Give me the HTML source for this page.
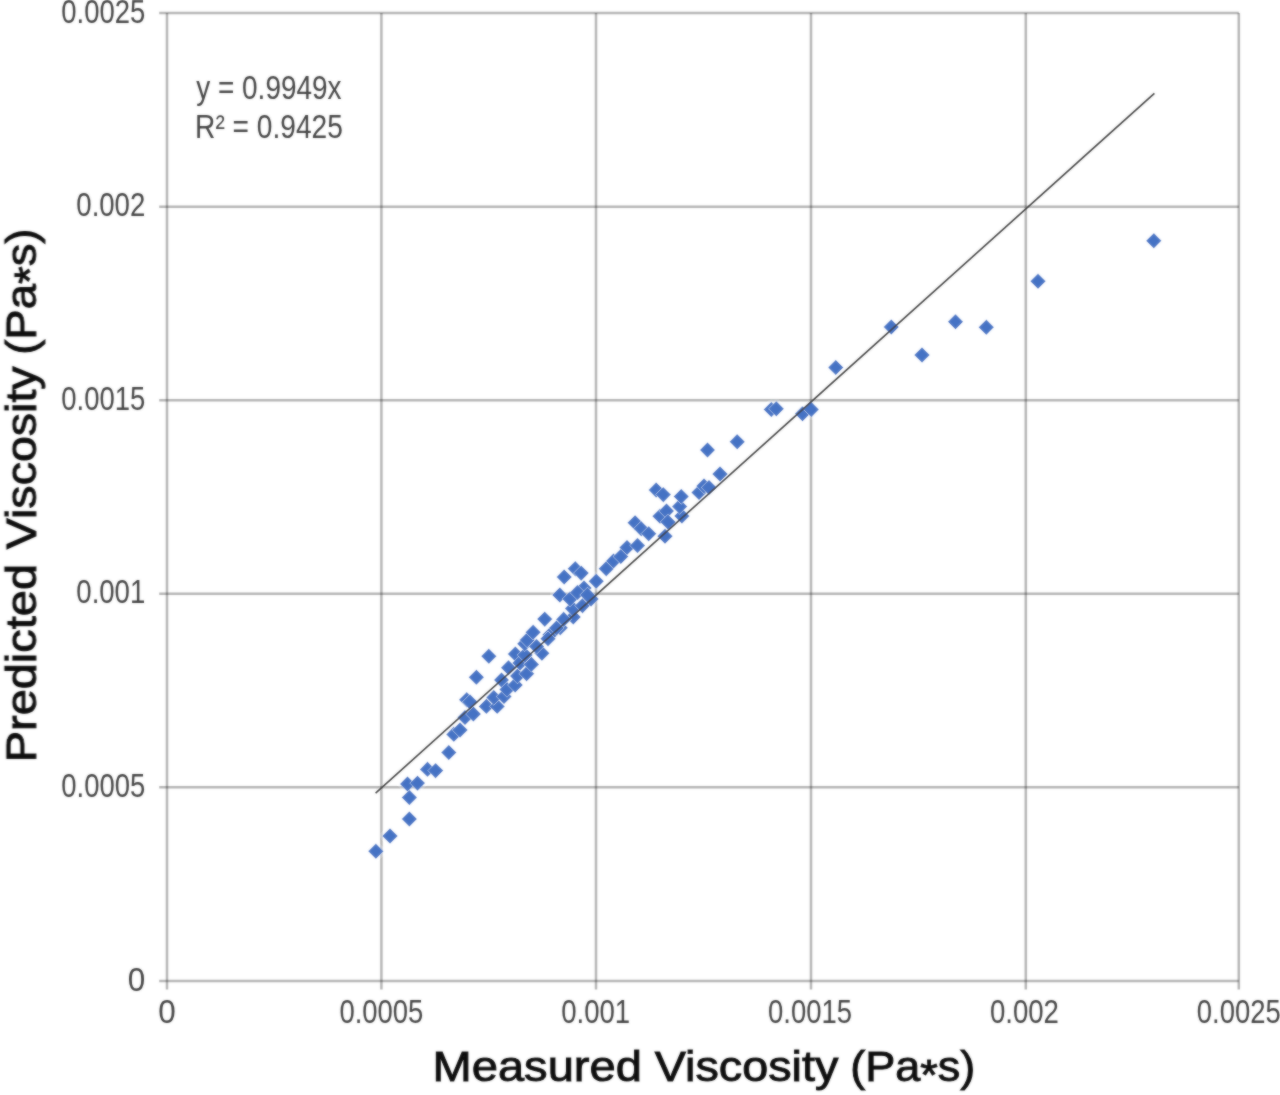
<!DOCTYPE html>
<html lang="en"><head><meta charset="utf-8"><title>Predicted vs Measured Viscosity</title>
<style>
html,body{margin:0;padding:0;background:#fff;}
body{width:1280px;height:1095px;overflow:hidden;}
svg{display:block;}
text{font-family:"Liberation Sans",Arial,Helvetica,sans-serif;}
.tick{font-size:32.5px;fill:#454545;}
.eq{font-size:32.3px;fill:#454545;}
.title{font-size:42px;fill:#111;stroke:#111;stroke-width:0.9px;}
</style></head><body>
<svg width="1280" height="1095" viewBox="0 0 1280 1095">
<defs><filter id="soft" x="0" y="0" width="1280" height="1095" filterUnits="userSpaceOnUse"><feGaussianBlur in="SourceGraphic" stdDeviation="0.9" result="b"/><feComposite in="SourceGraphic" in2="b" operator="arithmetic" k1="0" k2="0.45" k3="0.55" k4="0"/></filter></defs>
<rect width="1280" height="1095" fill="#ffffff"/>
<g filter="url(#soft)">

<g stroke="#000000" stroke-opacity="0.29" stroke-width="2.5" fill="none">
<line x1="167.0" y1="13.1" x2="167.0" y2="989.5"/>
<line x1="381.4" y1="13.1" x2="381.4" y2="989.5"/>
<line x1="596.0" y1="13.1" x2="596.0" y2="989.5"/>
<line x1="811.0" y1="13.1" x2="811.0" y2="989.5"/>
<line x1="1025.8" y1="13.1" x2="1025.8" y2="989.5"/>
<line x1="1238.8" y1="13.1" x2="1238.8" y2="989.5"/>
<line x1="159.2" y1="980.9" x2="1238.8" y2="980.9"/>
<line x1="159.2" y1="787.3" x2="1238.8" y2="787.3"/>
<line x1="159.2" y1="593.8" x2="1238.8" y2="593.8"/>
<line x1="159.2" y1="400.2" x2="1238.8" y2="400.2"/>
<line x1="159.2" y1="206.7" x2="1238.8" y2="206.7"/>
<line x1="159.2" y1="13.1" x2="1238.8" y2="13.1"/>
</g>
<g class="tick">
<text x="145.3" y="990.5" text-anchor="end" textLength="17.5" lengthAdjust="spacingAndGlyphs">0</text>
<text x="145.3" y="796.9" text-anchor="end" textLength="84" lengthAdjust="spacingAndGlyphs">0.0005</text>
<text x="145.3" y="603.4" text-anchor="end" textLength="69" lengthAdjust="spacingAndGlyphs">0.001</text>
<text x="145.3" y="409.8" text-anchor="end" textLength="84" lengthAdjust="spacingAndGlyphs">0.0015</text>
<text x="145.3" y="216.3" text-anchor="end" textLength="69" lengthAdjust="spacingAndGlyphs">0.002</text>
<text x="145.3" y="22.7" text-anchor="end" textLength="84" lengthAdjust="spacingAndGlyphs">0.0025</text>
<text x="167.0" y="1023" text-anchor="middle" textLength="17.5" lengthAdjust="spacingAndGlyphs">0</text>
<text x="381.4" y="1023" text-anchor="middle" textLength="84" lengthAdjust="spacingAndGlyphs">0.0005</text>
<text x="595.7" y="1023" text-anchor="middle" textLength="69" lengthAdjust="spacingAndGlyphs">0.001</text>
<text x="810.1" y="1023" text-anchor="middle" textLength="84" lengthAdjust="spacingAndGlyphs">0.0015</text>
<text x="1024.4" y="1023" text-anchor="middle" textLength="69" lengthAdjust="spacingAndGlyphs">0.002</text>
<text x="1238.8" y="1023" text-anchor="middle" textLength="84" lengthAdjust="spacingAndGlyphs">0.0025</text>
</g>
<g class="eq">
<text x="196.2" y="99.2" textLength="145.4" lengthAdjust="spacingAndGlyphs">y = 0.9949x</text>
<text x="195.1" y="138.2" textLength="147.8" lengthAdjust="spacingAndGlyphs">R² = 0.9425</text>
</g>
<g fill="#4472c4" stroke="#ffffff" stroke-width="0.5">
<path d="M368.1 851.3L375.9 843.5L383.6 851.3L375.9 859.0Z"/>
<path d="M382.2 836.0L390.0 828.2L397.8 836.0L390.0 843.8Z"/>
<path d="M401.6 819.0L409.4 811.2L417.1 819.0L409.4 826.8Z"/>
<path d="M401.6 797.5L409.4 789.8L417.1 797.5L409.4 805.2Z"/>
<path d="M399.8 784.0L407.5 776.2L415.2 784.0L407.5 791.8Z"/>
<path d="M409.8 783.1L417.5 775.4L425.2 783.1L417.5 790.9Z"/>
<path d="M419.8 769.4L427.5 761.6L435.2 769.4L427.5 777.1Z"/>
<path d="M427.9 770.6L435.6 762.9L443.4 770.6L435.6 778.4Z"/>
<path d="M441.1 752.5L448.8 744.8L456.6 752.5L448.8 760.2Z"/>
<path d="M446.1 734.4L453.8 726.6L461.6 734.4L453.8 742.1Z"/>
<path d="M452.2 730.0L460.0 722.2L467.8 730.0L460.0 737.8Z"/>
<path d="M457.2 717.5L465.0 709.8L472.8 717.5L465.0 725.2Z"/>
<path d="M465.6 714.0L473.4 706.2L481.1 714.0L473.4 721.8Z"/>
<path d="M458.9 699.7L466.7 692.0L474.4 699.7L466.7 707.5Z"/>
<path d="M462.2 702.0L470.0 694.2L477.8 702.0L470.0 709.8Z"/>
<path d="M468.6 677.2L476.4 669.5L484.1 677.2L476.4 685.0Z"/>
<path d="M481.1 656.2L488.8 648.5L496.6 656.2L488.8 664.0Z"/>
<path d="M478.6 706.4L486.4 698.6L494.1 706.4L486.4 714.1Z"/>
<path d="M489.4 706.4L497.2 698.6L504.9 706.4L497.2 714.1Z"/>
<path d="M486.1 697.5L493.8 689.8L501.6 697.5L493.8 705.2Z"/>
<path d="M496.2 696.5L504.0 688.8L511.8 696.5L504.0 704.2Z"/>
<path d="M493.8 680.0L501.5 672.2L509.2 680.0L501.5 687.8Z"/>
<path d="M499.2 689.5L507.0 681.8L514.8 689.5L507.0 697.2Z"/>
<path d="M507.5 685.0L515.2 677.2L523.0 685.0L515.2 692.8Z"/>
<path d="M500.8 667.7L508.5 660.0L516.2 667.7L508.5 675.5Z"/>
<path d="M507.6 654.0L515.4 646.2L523.1 654.0L515.4 661.8Z"/>
<path d="M509.8 676.0L517.5 668.2L525.2 676.0L517.5 683.8Z"/>
<path d="M512.2 663.0L520.0 655.2L527.8 663.0L520.0 670.8Z"/>
<path d="M517.2 655.0L525.0 647.2L532.8 655.0L525.0 662.8Z"/>
<path d="M518.9 673.7L526.6 666.0L534.4 673.7L526.6 681.5Z"/>
<path d="M517.0 643.8L524.8 636.0L532.5 643.8L524.8 651.5Z"/>
<path d="M523.6 664.4L531.4 656.6L539.1 664.4L531.4 672.1Z"/>
<path d="M534.1 653.2L541.9 645.5L549.6 653.2L541.9 661.0Z"/>
<path d="M528.8 646.5L536.5 638.8L544.2 646.5L536.5 654.2Z"/>
<path d="M519.5 640.0L527.2 632.2L535.0 640.0L527.2 647.8Z"/>
<path d="M525.4 632.3L533.1 624.5L540.9 632.3L533.1 640.0Z"/>
<path d="M537.0 619.1L544.7 611.4L552.5 619.1L544.7 626.9Z"/>
<path d="M542.2 634.8L550.0 627.0L557.8 634.8L550.0 642.5Z"/>
<path d="M540.2 638.7L548.0 631.0L555.8 638.7L548.0 646.5Z"/>
<path d="M552.5 627.7L560.2 620.0L568.0 627.7L560.2 635.5Z"/>
<path d="M548.8 628.0L556.5 620.2L564.2 628.0L556.5 635.8Z"/>
<path d="M565.5 617.0L573.3 609.2L581.0 617.0L573.3 624.8Z"/>
<path d="M556.0 619.4L563.7 611.6L571.5 619.4L563.7 627.1Z"/>
<path d="M564.8 608.5L572.5 600.8L580.2 608.5L572.5 616.2Z"/>
<path d="M552.0 595.0L559.8 587.2L567.5 595.0L559.8 602.8Z"/>
<path d="M562.2 599.0L570.0 591.2L577.8 599.0L570.0 606.8Z"/>
<path d="M556.5 577.0L564.2 569.2L572.0 577.0L564.2 584.8Z"/>
<path d="M567.5 568.7L575.3 561.0L583.0 568.7L575.3 576.5Z"/>
<path d="M573.5 573.1L581.2 565.4L589.0 573.1L581.2 580.9Z"/>
<path d="M576.2 588.0L584.0 580.2L591.8 588.0L584.0 595.8Z"/>
<path d="M569.8 592.5L577.5 584.8L585.2 592.5L577.5 600.2Z"/>
<path d="M574.8 605.6L582.5 597.9L590.2 605.6L582.5 613.4Z"/>
<path d="M583.2 599.0L591.0 591.2L598.8 599.0L591.0 606.8Z"/>
<path d="M579.8 595.0L587.5 587.2L595.2 595.0L587.5 602.8Z"/>
<path d="M588.5 581.2L596.2 573.5L604.0 581.2L596.2 589.0Z"/>
<path d="M598.5 568.7L606.2 561.0L614.0 568.7L606.2 576.5Z"/>
<path d="M605.8 561.0L613.5 553.2L621.2 561.0L613.5 568.8Z"/>
<path d="M613.0 556.5L620.8 548.8L628.5 556.5L620.8 564.2Z"/>
<path d="M619.2 547.5L627.0 539.8L634.8 547.5L627.0 555.2Z"/>
<path d="M627.4 522.8L635.1 515.0L642.9 522.8L635.1 530.5Z"/>
<path d="M633.5 528.7L641.2 521.0L649.0 528.7L641.2 536.5Z"/>
<path d="M641.0 533.7L648.7 526.0L656.5 533.7L648.7 541.5Z"/>
<path d="M629.8 545.5L637.5 537.8L645.2 545.5L637.5 553.2Z"/>
<path d="M657.2 536.2L665.0 528.5L672.8 536.2L665.0 544.0Z"/>
<path d="M652.2 516.2L660.0 508.5L667.8 516.2L660.0 524.0Z"/>
<path d="M658.8 511.0L666.5 503.2L674.2 511.0L666.5 518.8Z"/>
<path d="M660.2 522.0L668.0 514.2L675.8 522.0L668.0 529.8Z"/>
<path d="M674.1 516.0L681.9 508.2L689.6 516.0L681.9 523.8Z"/>
<path d="M671.9 506.5L679.6 498.8L687.4 506.5L679.6 514.2Z"/>
<path d="M673.5 496.5L681.2 488.8L689.0 496.5L681.2 504.2Z"/>
<path d="M648.5 490.0L656.2 482.2L664.0 490.0L656.2 497.8Z"/>
<path d="M655.5 494.6L663.3 486.9L671.0 494.6L663.3 502.4Z"/>
<path d="M691.2 492.5L699.0 484.8L706.8 492.5L699.0 500.2Z"/>
<path d="M696.2 486.0L704.0 478.2L711.8 486.0L704.0 493.8Z"/>
<path d="M701.2 487.5L709.0 479.8L716.8 487.5L709.0 495.2Z"/>
<path d="M712.2 474.0L720.0 466.2L727.8 474.0L720.0 481.8Z"/>
<path d="M699.8 450.0L707.5 442.2L715.2 450.0L707.5 457.8Z"/>
<path d="M729.5 441.8L737.2 434.1L745.0 441.8L737.2 449.6Z"/>
<path d="M763.5 409.5L771.3 401.8L779.0 409.5L771.3 417.2Z"/>
<path d="M768.5 408.8L776.3 401.1L784.0 408.8L776.3 416.6Z"/>
<path d="M794.8 413.8L802.5 406.1L810.2 413.8L802.5 421.6Z"/>
<path d="M803.5 409.5L811.3 401.8L819.0 409.5L811.3 417.2Z"/>
<path d="M828.0 367.5L835.8 359.8L843.5 367.5L835.8 375.2Z"/>
<path d="M883.5 327.0L891.3 319.2L899.0 327.0L891.3 334.8Z"/>
<path d="M914.2 355.0L922.0 347.2L929.8 355.0L922.0 362.8Z"/>
<path d="M947.8 321.8L955.5 314.1L963.2 321.8L955.5 329.6Z"/>
<path d="M978.5 327.3L986.3 319.6L994.0 327.3L986.3 335.1Z"/>
<path d="M1030.2 281.3L1038.0 273.6L1045.8 281.3L1038.0 289.1Z"/>
<path d="M1146.0 240.8L1153.8 233.1L1161.5 240.8L1153.8 248.6Z"/>
</g>
<line x1="375.6" y1="793.1" x2="1154.4" y2="93.4" stroke="#404040" stroke-width="1.6"/>
<g class="title">
<text y="1081.3"><tspan x="432.6" textLength="209.2" lengthAdjust="spacingAndGlyphs">Measured</tspan> <tspan x="654.7" textLength="183.6" lengthAdjust="spacingAndGlyphs">Viscosity</tspan> <tspan x="850.2" textLength="125.2" lengthAdjust="spacingAndGlyphs">(Pa<tspan dy="7.5">*</tspan><tspan dy="-7.5">s)</tspan></tspan></text>
<text transform="translate(35.8 0) rotate(-90)" y="0"><tspan x="-762.3" textLength="198.3" lengthAdjust="spacingAndGlyphs">Predicted</tspan> <tspan x="-549.2" textLength="182.8" lengthAdjust="spacingAndGlyphs">Viscosity</tspan> <tspan x="-354.8" textLength="126.3" lengthAdjust="spacingAndGlyphs">(Pa<tspan dy="7.5">*</tspan><tspan dy="-7.5">s)</tspan></tspan></text>
</g>
</g>
</svg></body></html>
